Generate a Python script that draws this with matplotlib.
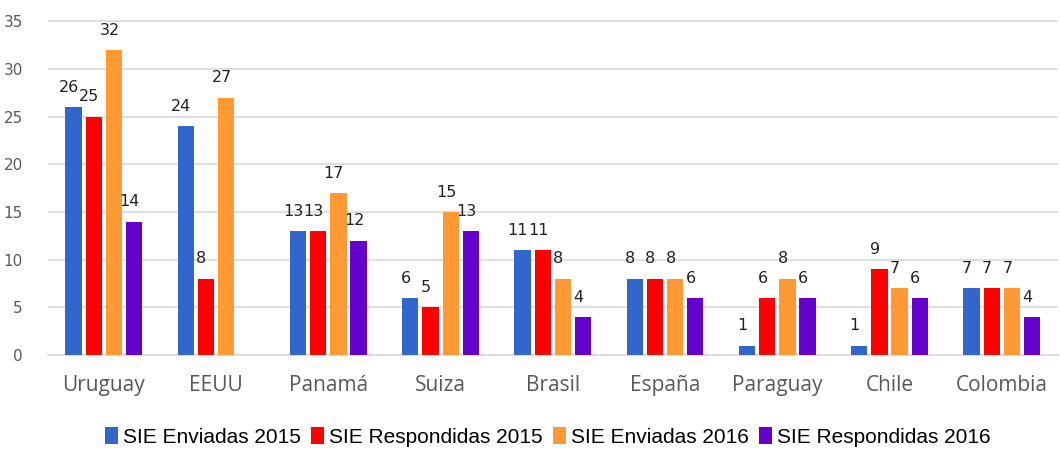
import numpy as np
import matplotlib
matplotlib.use('Agg')
import matplotlib.pyplot as plt

paises = ['Uruguay', 'EEUU', 'Panamá', 'Suiza', 'Brasil', 'España', 'Paraguay', 'Chile', 'Colombia']
series = ['SIE Enviadas 2015', 'SIE Respondidas 2015', 'SIE Enviadas 2016', 'SIE Respondidas 2016']
enviadas_2015 = [26, 24, 13, 6, 11, 8, 1, 1, 7]
respondidas_2015 = [25, 8, 13, 5, 11, 8, 6, 9, 7]
enviadas_2016 = [32, 27, 17, 15, 8, 8, 8, 7, 7]
respondidas_2016 = [14, np.nan, 12, 13, 4, 6, 6, 6, 4]
colores = ['#3366CC', '#FF0000', '#FF9933', '#6600CC']

valores = [enviadas_2015, respondidas_2015, enviadas_2016, respondidas_2016]

fig = plt.figure(figsize=(10.6, 4.63), dpi=100)
ax = fig.add_axes([0.045, 0.233, 0.953, 0.727])

x = np.arange(len(paises))
ancho = 0.145
paso = 0.18
for i, (vals, nombre, c) in enumerate(zip(valores, series, colores)):
    pos = x + (i - 1.5) * paso
    v = np.array(vals, dtype=float)
    ax.bar(pos, v, width=ancho, color=c, label=nombre, zorder=3)
    for p, val in zip(pos, v):
        if not np.isnan(val):
            ax.text(p - 0.04, val + 1.3, '%d' % val, ha='center', va='bottom',
                    fontsize=11.5, color='#222222', family='DejaVu Sans')

ax.set_xlim(-0.5, len(paises) - 0.5)
ax.set_ylim(0, 35.3)
ax.set_yticks(range(0, 36, 5))
ax.grid(axis='y', color='#D9D9D9', linewidth=1.2, zorder=0)
for s in ['top', 'right', 'left']:
    ax.spines[s].set_visible(False)
ax.spines['bottom'].set_color('#D9D9D9')
ax.spines['bottom'].set_linewidth(1.2)
ax.tick_params(axis='y', length=0, labelsize=11, labelcolor='#595959', pad=18)
ax.tick_params(axis='x', length=0, labelsize=15, labelcolor='#595959', pad=14)
ax.set_xticks(x)
ax.set_xticklabels(paises, family='Open Sans')

fig.legend(loc='center', bbox_to_anchor=(0.517, 0.056), ncol=4, frameon=False,
           handlelength=0.6, handleheight=0.9, handletextpad=0.25, columnspacing=0.5,
           prop={'family': 'Liberation Sans', 'size': 15})

fig.savefig('out.png', dpi=100)
